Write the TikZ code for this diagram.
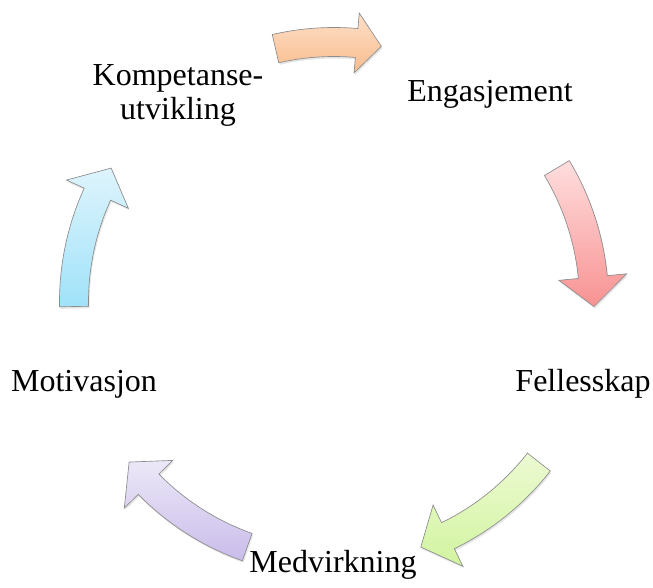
\documentclass[tikz,border=0pt]{standalone}
\usepackage{fontspec}
\setmainfont{Liberation Serif}
\usepackage{xcolor}

\definecolor{orangeTop}{RGB}{253,224,200}
\definecolor{orangeBot}{RGB}{249,188,142}
\definecolor{redTop}{RGB}{255,222,222}
\definecolor{redBot}{RGB}{248,146,146}
\definecolor{greenTop}{RGB}{236,250,210}
\definecolor{greenBot}{RGB}{210,244,160}
\definecolor{purpleTop}{RGB}{236,232,248}
\definecolor{purpleBot}{RGB}{202,188,234}
\definecolor{blueTop}{RGB}{222,244,252}
\definecolor{blueBot}{RGB}{160,226,250}

\begin{document}
\begin{tikzpicture}[x=0.75pt, y=0.75pt,
    cyclabel/.style={font=\fontsize{24}{25.5}\selectfont, align=center},
    cycarrow/.style={draw=black!45, line width=0.5pt,
      preaction={fill=black!40, opacity=0.25, transform canvas={xshift=0.8pt, yshift=-1.5pt}}}]
    \useasboundingbox (0,0) rectangle (653,588);
    \coordinate (mid) at (334,286);

    % the five labels round the cycle
    \node[cyclabel] (komp) at (178,493) {Kompetanse-\\utvikling};
    \node[cyclabel, anchor=base] (eng) at (490,486) {Engasjement};
    \node[cyclabel, anchor=base] (fell) at (583,196) {Fellesskap};
    \node[cyclabel, anchor=base] (medv) at (333,15) {Medvirkning};
    \node[cyclabel, anchor=base] (motiv) at (84,196) {Motivasjon};

    % curved block arrows, clockwise: tail angle / tip angle / half head width / head length (deg)
    \begin{scope}[shift={(mid)}]
      \foreach \ta/\tb/\hw/\hl/\ca/\cb in {103/79.5/30/5.5/orangeTop/orangeBot,
          31/-1/34/6.5/redTop/redBot,
          -38/-70.5/34/6.5/greenTop/greenBot,
          -109.5/-142/34/6.5/purpleTop/purpleBot,
          181/149/34/6.5/blueTop/blueBot}{
        \pgfmathsetmacro\hb{\tb+\hl}
        \draw[cycarrow, top color=\ca, bottom color=\cb]
          ({\ta}:274.5) arc[start angle=\ta, end angle=\hb, radius=274.5]
          -- ({\hb}:{260+\hw}) -- ({\tb}:260) -- ({\hb}:{260-\hw})
          -- ({\hb}:245.5) arc[start angle=\hb, end angle=\ta, radius=245.5] -- cycle;
      }
    \end{scope}
\end{tikzpicture}
\end{document}
